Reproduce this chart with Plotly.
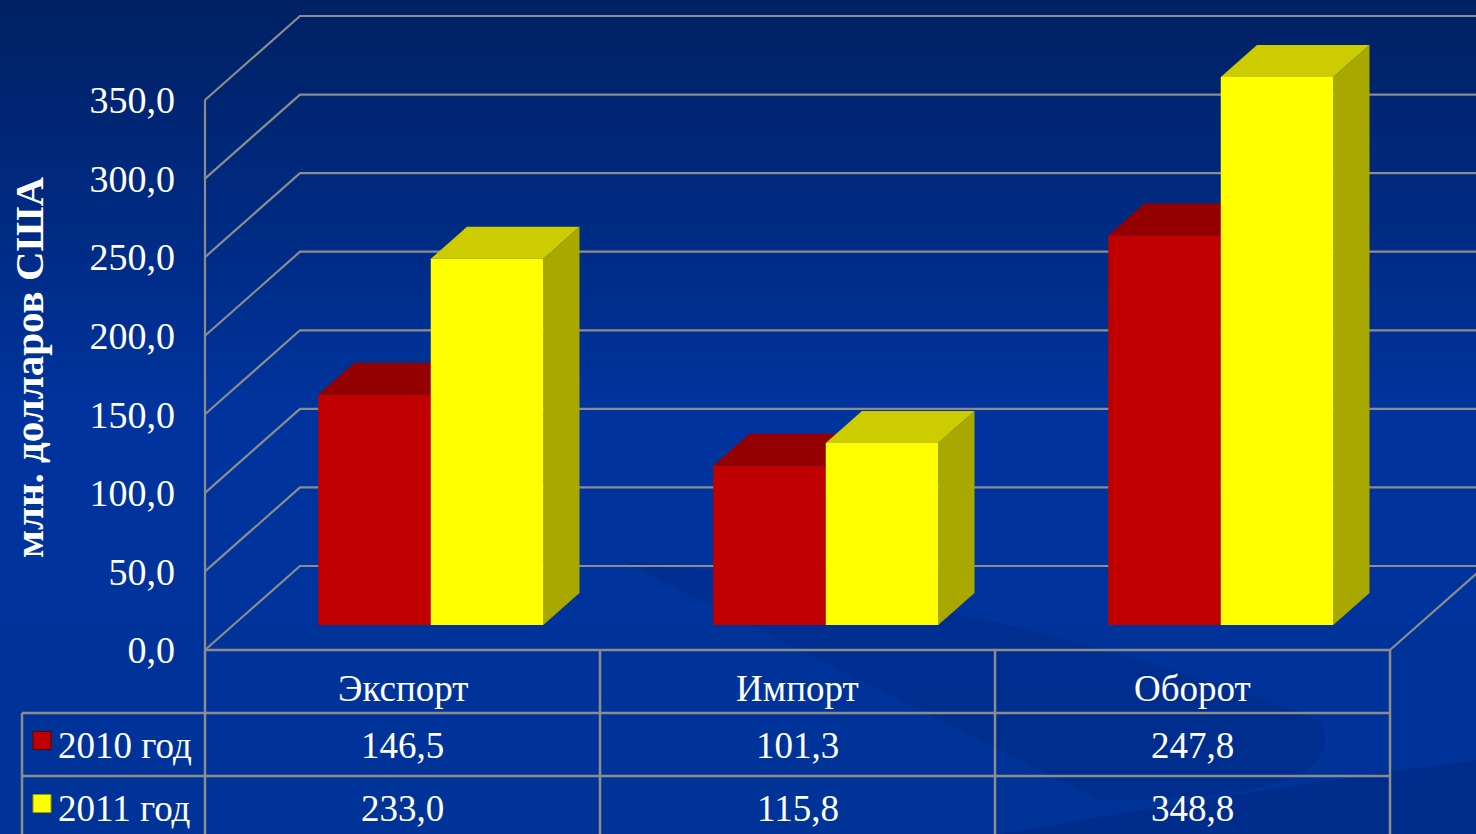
import plotly.graph_objects as go

# ---------------- data ----------------
categories = ["Экспорт", "Импорт", "Оборот"]
series_names = ["2010 год", "2011 год"]
values_2010 = [146.5, 101.3, 247.8]
values_2011 = [233.0, 115.8, 348.8]
y_ticks = [0, 50, 100, 150, 200, 250, 300, 350]
y_title = "млн. долларов США"

# ---------------- styling / layout constants ----------------
W, H = 1476, 834
S = 550.0 / 350.0          # px per value unit
FLOOR_PY = 650.0           # pixel row of value 0 on the front plane
X0 = 205.0                 # front-left corner x
CW = 395.0                 # category width (front plane)
GAP = 1.51                 # gap width relative to bar width
DX = 95.0                  # full depth offset in x (px)
DZ = 84.0 / S              # full depth offset in value units
D0, D1 = 25.0 / 84.0, 57.0 / 84.0   # bar depth fractions
FONT = "Liberation Serif, Times New Roman, serif"
FS = 37
GRID = "#8c8c8c"
colors = {
    "2010 год": dict(front="#c00000", top="#940000", side="#8a0000"),
    "2011 год": dict(front="#ffff00", top="#cccc00", side="#a8a800"),
}
series_vals = {"2010 год": values_2010, "2011 год": values_2011}

vmax = FLOOR_PY / S
vmin = -(H - FLOOR_PY) / S
ncat = len(categories)
XR = X0 + ncat * CW


def P(x, v, d):
    return x + d * DX, v + d * DZ


def pyp(py):  # pixel row -> paper fraction
    return 1 - py / H


fig = go.Figure()

# background gradient
shapes = []
top_rgb = (0, 33, 100)
mid_rgb = (0, 52, 158)
bot_rgb = (0, 51, 152)
n = 60
for k in range(n):
    y0 = k * H / n
    y1 = (k + 1) * H / n
    t = (y0 + y1) / 2 / H
    if t < 0.5:
        f = t / 0.5
        c = tuple(int(top_rgb[j] + (mid_rgb[j] - top_rgb[j]) * f) for j in range(3))
    else:
        f = (t - 0.5) / 0.5
        c = tuple(int(mid_rgb[j] + (bot_rgb[j] - mid_rgb[j]) * f) for j in range(3))
    shapes.append(dict(type="rect", xref="paper", yref="paper", x0=0, x1=1,
                       y0=pyp(y1 + 0.5), y1=pyp(y0), fillcolor="rgb(%d,%d,%d)" % c,
                       line=dict(width=0), layer="below"))

# subtle swooshes
shapes.append(dict(type="path", xref="x", yref="paper", layer="below",
                   path="M 620 %f Q 1000 %f 1320 %f Q 1360 %f 1100 %f Q 900 %f 620 %f Z" % (
                       pyp(560), pyp(600), pyp(720), pyp(800), pyp(800), pyp(700), pyp(560)),
                   fillcolor="rgba(0,30,110,0.22)", line=dict(width=0)))
shapes.append(dict(type="path", xref="x", yref="paper", layer="below",
                   path="M 1000 %f Q 1250 %f 1476 %f L 1476 %f Q 1250 %f 1000 %f Z" % (
                       pyp(834), pyp(790), pyp(760), pyp(834), pyp(834), pyp(834)),
                   fillcolor="rgba(0,30,110,0.3)", line=dict(width=0)))

# gridlines, walls, floor
gx, gy = [], []
for v in y_ticks:
    a = P(X0, v, 0); b = P(X0, v, 1); c = P(XR, v, 1)
    gx += [a[0], b[0], c[0], None]
    gy += [a[1], b[1], c[1], None]
a = P(X0, 0, 0); b = P(X0, y_ticks[-1], 0)
gx += [a[0], b[0], None]; gy += [a[1], b[1], None]
a = P(X0, 0, 0); b = P(XR, 0, 0); c = P(XR, 0, 1)
gx += [a[0], b[0], c[0], None]; gy += [a[1], b[1], c[1], None]
fig.add_trace(go.Scatter(x=gx, y=gy, mode="lines", line=dict(color=GRID, width=2.2),
                         hoverinfo="skip", showlegend=False))

# bars
bw = CW / (2 + GAP)
for i, cat in enumerate(categories):
    c = X0 + (i + 0.5) * CW
    for j, s in enumerate(series_names):
        val = series_vals[s][i]
        xl = c - bw + j * bw
        xr = xl + bw
        col = colors[s]
        faces = [
            ("side", [P(xr, 0, D0), P(xr, val, D0), P(xr, val, D1), P(xr, 0, D1)]),
            ("top", [P(xl, val, D0), P(xr, val, D0), P(xr, val, D1), P(xl, val, D1)]),
            ("front", [P(xl, 0, D0), P(xr, 0, D0), P(xr, val, D0), P(xl, val, D0)]),
        ]
        for fname, pts in faces:
            xs = [p[0] for p in pts] + [pts[0][0]]
            ys = [p[1] for p in pts] + [pts[0][1]]
            fig.add_trace(go.Scatter(x=xs, y=ys, mode="lines", fill="toself",
                                     fillcolor=col[fname], line=dict(width=0, color=col[fname]),
                                     hoverinfo="skip", showlegend=False, name=s))

# data table below the chart
ROW_TOP = FLOOR_PY
ROW_H = 63.0
LEG_X = 22.0
lines = []
lines.append((X0, ROW_TOP, XR, ROW_TOP))
for r in range(1, len(series_names) + 1):
    lines.append((LEG_X, ROW_TOP + r * ROW_H, XR, ROW_TOP + r * ROW_H))
lines.append((LEG_X, ROW_TOP + ROW_H, LEG_X, H + 5))
for k in range(ncat + 1):
    lines.append((X0 + k * CW, ROW_TOP, X0 + k * CW, H + 5))
for (x0, y0, x1, y1) in lines:
    shapes.append(dict(type="line", xref="x", yref="paper", x0=x0, x1=x1,
                       y0=pyp(y0), y1=pyp(y1), line=dict(color=GRID, width=2.5)))

annotations = []
for i, cat in enumerate(categories):
    cx = X0 + (i + 0.5) * CW
    annotations.append(dict(x=cx, y=pyp(ROW_TOP + ROW_H / 2 + 7), xref="x", yref="paper",
                            text=cat, showarrow=False, xanchor="center", yanchor="middle",
                            font=dict(family=FONT, size=FS, color="white")))
    for r, s in enumerate(series_names):
        txt = ("%.1f" % series_vals[s][i]).replace(".", ",")
        annotations.append(dict(x=cx, y=pyp(ROW_TOP + (r + 1.5) * ROW_H + 1), xref="x", yref="paper",
                                text=txt, showarrow=False, xanchor="center", yanchor="middle",
                                font=dict(family=FONT, size=FS, color="white")))
for r, s in enumerate(series_names):
    cy = ROW_TOP + (r + 1.5) * ROW_H
    shapes.append(dict(type="rect", xref="x", yref="paper", x0=LEG_X + 11, x1=LEG_X + 29,
                       y0=pyp(cy - 13), y1=pyp(cy + 5),
                       fillcolor=colors[s]["front"], line=dict(color="#5a0000" if r == 0 else "#999900", width=1)))
    annotations.append(dict(x=LEG_X + 34, y=pyp(cy + 1), xref="x", yref="paper",
                            text=s, showarrow=False, xanchor="left", yanchor="middle",
                            font=dict(family=FONT, size=FS, color="white")))

annotations.append(dict(x=29, y=pyp(367), xref="x", yref="paper", text="<b>%s</b>" % y_title,
                        textangle=-90, showarrow=False, xanchor="center", yanchor="middle",
                        font=dict(family=FONT, size=41, color="white")))

fig.update_layout(
    width=W, height=H, margin=dict(l=0, r=0, t=0, b=0, pad=0),
    paper_bgcolor="#0033a0", plot_bgcolor="rgba(0,0,0,0)",
    separators=", ", showlegend=False,
    shapes=shapes, annotations=annotations,
    xaxis=dict(range=[0, W], visible=False, fixedrange=True),
    yaxis=dict(range=[vmin, vmax], anchor="free", position=X0 / W,
               tickvals=y_ticks, tickformat=".1f", showgrid=False, zeroline=False,
               showline=False, ticks="", ticklabelstandoff=30,
               tickfont=dict(family=FONT, size=38, color="white"), fixedrange=True),
)

fig.write_html("out.html", config={"displayModeBar": False},
               post_script="document.body.style.margin='0';")
